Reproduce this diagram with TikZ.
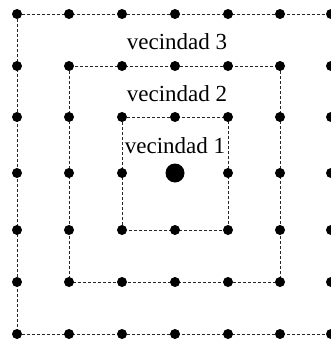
\documentclass[tikz,border=0pt]{standalone}
\usepackage{fontspec}
\setmainfont{Liberation Serif}
\begin{document}
\begin{tikzpicture}[x=1pt,y=-1pt,
  dot/.style={circle,fill=black,inner sep=0pt,minimum size=10pt},
  bigdot/.style={circle,fill=black,inner sep=0pt,minimum size=19pt},
  ring/.style={draw=black!85,line width=0.9pt,dash pattern=on 3pt off 2pt},
  lbl/.style={inner sep=0pt,anchor=base,font=\fontsize{23}{23}\selectfont}]
\useasboundingbox (0,0) rectangle (331,340);
\def\xs{{17,69,122,175,228,280,331}}
\def\ys{{14,66,117,173,230,282,334}}
\foreach \i in {0,...,6}{
  \foreach \j in {0,...,6}{
    \pgfmathsetmacro{\px}{\xs[\i]}
    \pgfmathsetmacro{\py}{\ys[\j]}
    \coordinate (c-\i-\j) at (\px,\py);
  }
}
\draw[ring] (c-0-0) rectangle (c-6-6);
\draw[ring] (c-1-1) rectangle (c-5-5);
\draw[ring] (c-2-2) rectangle (c-4-4);
\foreach \i in {0,...,6}{
  \foreach \j in {0,...,6}{
    \ifnum\i=3 \ifnum\j=3 \else \node[dot] (d-\i-\j) at (c-\i-\j) {}; \fi
    \else \node[dot] (d-\i-\j) at (c-\i-\j) {}; \fi
  }
}
\node[bigdot] (center) at (c-3-3) {};
\node[lbl] (v1) at (175,153) {vecindad 1};
\node[lbl] (v2) at (177,101) {vecindad 2};
\node[lbl] (v3) at (177,49) {vecindad 3};
\end{tikzpicture}
\end{document}
